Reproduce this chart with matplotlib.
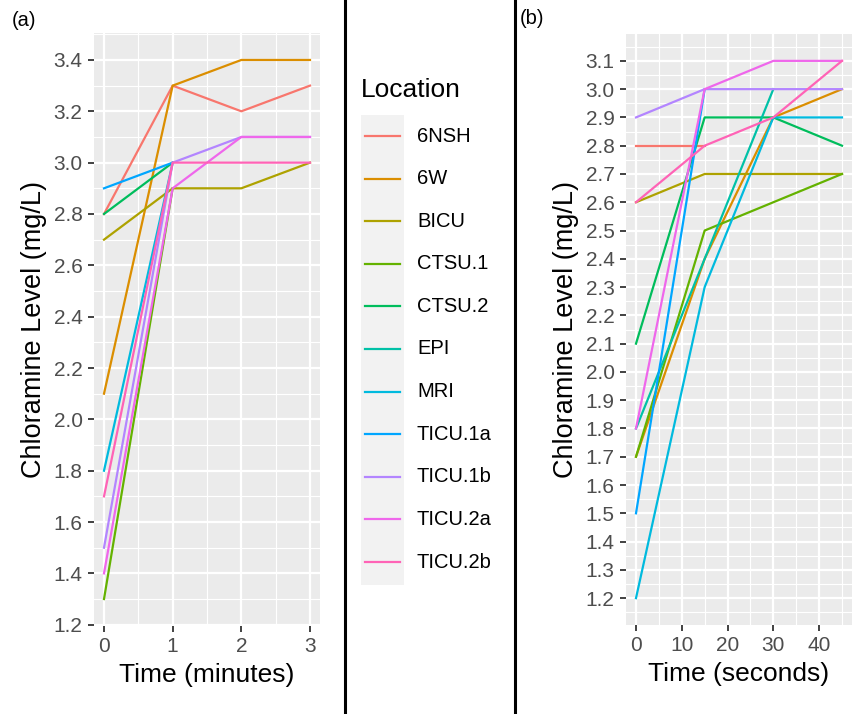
import numpy as np
import matplotlib.pyplot as plt

plt.rcParams["font.family"] = ["Liberation Sans", "DejaVu Sans"]

locations = ["6NSH", "6W", "BICU", "CTSU.1", "CTSU.2", "EPI", "MRI",
             "TICU.1a", "TICU.1b", "TICU.2a", "TICU.2b"]
colors = ["#F8766D", "#DB8E00", "#AEA200", "#64B200", "#00BD5C", "#00C1A7",
          "#00BADE", "#00A6FF", "#B385FF", "#EF67EB", "#FF63B6"]

# panel (a): chloramine level by minute
minutes = [0, 1, 2, 3]
nan = np.nan
level_min = {
    "6NSH":    [2.8, 3.3, 3.2, 3.3],
    "6W":      [2.1, 3.3, 3.4, 3.4],
    "BICU":    [2.7, 2.9, 2.9, 3.0],
    "CTSU.1":  [1.3, 2.9, nan, nan],
    "CTSU.2":  [2.8, 3.0, nan, nan],
    "EPI":     [nan, nan, nan, nan],
    "MRI":     [1.8, 3.0, nan, nan],
    "TICU.1a": [2.9, 3.0, nan, nan],
    "TICU.1b": [1.5, 3.0, 3.1, 3.1],
    "TICU.2a": [1.4, 2.9, 3.1, 3.1],
    "TICU.2b": [1.7, 3.0, 3.0, 3.0],
}

# panel (b): chloramine level by second
seconds = [0, 15, 30, 45]
level_sec = {
    "6NSH":    [2.8, 2.8, nan, nan],
    "6W":      [1.7, 2.4, 2.9, 3.0],
    "BICU":    [2.6, 2.7, 2.7, 2.7],
    "CTSU.1":  [1.7, 2.5, 2.6, 2.7],
    "CTSU.2":  [2.1, 2.9, 2.9, 2.8],
    "EPI":     [1.8, 2.4, 3.0, nan],
    "MRI":     [1.2, 2.3, 2.9, 2.9],
    "TICU.1a": [1.5, 3.0, nan, nan],
    "TICU.1b": [2.9, 3.0, 3.0, 3.0],
    "TICU.2a": [1.8, 3.0, 3.1, 3.1],
    "TICU.2b": [2.6, 2.8, 2.9, 3.1],
}

W, H = 856, 714
fig = plt.figure(figsize=(W / 100, H / 100), dpi=100)


def px_axes(left, top, right, bottom):
    return fig.add_axes([left / W, 1 - bottom / H, (right - left) / W, (bottom - top) / H])


def style(ax, xmaj, xmin, ymaj, ymin, xlabel):
    ax.set_facecolor("#EBEBEB")
    for s in ax.spines.values():
        s.set_visible(False)
    ax.set_xticks(xmaj)
    ax.set_xticks(xmin, minor=True)
    ax.set_yticks(ymaj)
    ax.set_yticks(ymin, minor=True)
    ax.set_yticklabels([f"{v:.1f}" for v in ymaj])
    ax.grid(which="major", color="white", lw=1.6)
    ax.grid(which="minor", color="white", lw=0.8)
    ax.set_axisbelow(True)
    ax.tick_params(which="major", length=4, width=1.3, color="#333333",
                   labelsize=15, labelcolor="#4D4D4D", pad=4)
    ax.tick_params(which="minor", length=0)
    ax.set_xlabel(xlabel, fontsize=19, labelpad=5)
    ax.set_ylabel("Chloramine Level (mg/L)", fontsize=19.5, labelpad=5)


ax1 = px_axes(93.7, 33, 320.3, 626)
for loc, col in zip(locations, colors):
    ax1.plot(minutes, level_min[loc], color=col, lw=1.6)
ax1.set_xlim(-0.15, 3.15)
ax1.set_ylim(1.195, 3.505)
style(ax1, [0, 1, 2, 3], [0.5, 1.5, 2.5],
      np.round(np.arange(1.2, 3.41, 0.2), 1), np.round(np.arange(1.3, 3.51, 0.2), 1),
      "Time (minutes)")

ax2 = px_axes(625.7, 34, 852.3, 625)
for loc, col in zip(locations, colors):
    ax2.plot(seconds, level_sec[loc], color=col, lw=1.6)
ax2.set_xlim(-2.25, 47.25)
ax2.set_ylim(1.105, 3.195)
style(ax2, [0, 10, 20, 30, 40], [5, 15, 25, 35, 45],
      np.round(np.arange(1.2, 3.11, 0.1), 1), np.round(np.arange(1.15, 3.2, 0.1), 2),
      "Time (seconds)")

# separators, panel tags and legend drawn in pixel space
over = fig.add_axes([0, 0, 1, 1], facecolor="none")
over.set_xlim(0, W)
over.set_ylim(H, 0)
over.axis("off")
over.plot([345, 345], [0, H], color="black", lw=2.2)
over.plot([515, 515], [0, H], color="black", lw=2.2)
over.text(12, 21, "(a)", fontsize=14.5, va="center", ha="left")
over.text(520, 19, "(b)", fontsize=14.5, va="center", ha="left")

over.text(361, 90, "Location", fontsize=19, va="center", ha="left")
over.add_patch(plt.Rectangle((361, 115), 43, 470, facecolor="#F2F2F2", edgecolor="none"))
for i, (loc, col) in enumerate(zip(locations, colors)):
    y = 136 + 42.6 * i
    over.plot([365, 400], [y, y], color=col, lw=1.6)
    over.text(417, y, loc, fontsize=14.5, va="center", ha="left")

fig.savefig("out.png", dpi=100)
